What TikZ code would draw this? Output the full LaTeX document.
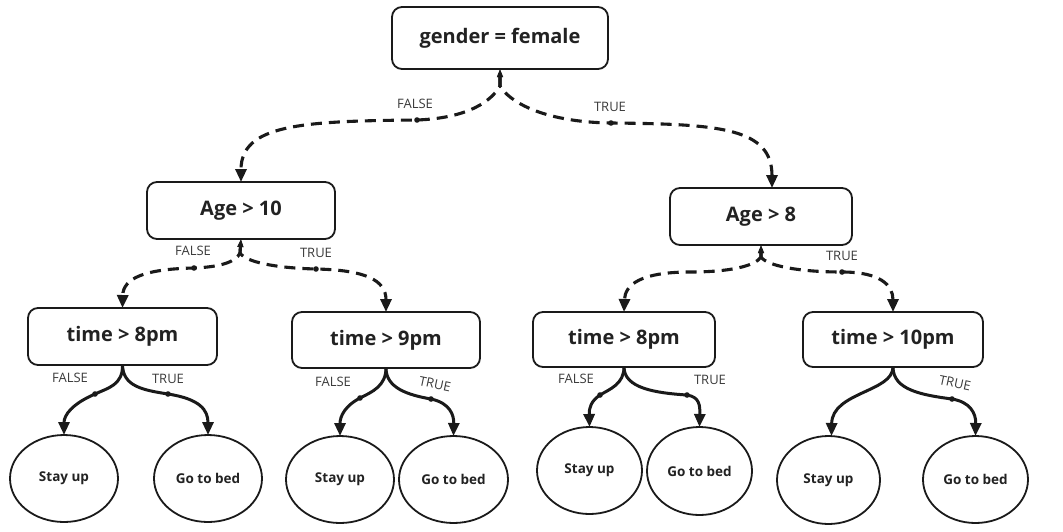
\documentclass[tikz,border=0pt]{standalone}
\usepackage{fontspec}
\setmainfont{Open Sans}
\usetikzlibrary{arrows.meta,shapes.geometric}
\definecolor{ink}{HTML}{1A1A1A}
\definecolor{txt}{HTML}{222222}
\definecolor{lbl}{HTML}{3A3A3A}
\begin{document}
\begin{tikzpicture}[x=1pt,y=-1pt,
  decision/.style={draw=ink, line width=1.8pt, rounded corners=10pt, inner sep=0pt, outer sep=0pt,
    font=\bfseries\fontsize{20}{24}\selectfont, text=txt},
  leaf/.style={ellipse, draw=ink, line width=1.8pt, inner sep=0pt, outer sep=0pt,
    font=\bfseries\fontsize{13.5}{16}\selectfont, text=txt},
  dashedge/.style={draw=ink, line width=3.1pt, dash pattern=on 11pt off 7pt,
    {Triangle[length=8pt,width=5.5pt]}-{Triangle[length=13pt,width=11pt]}},
  solidedge/.style={draw=ink, line width=3pt, -{Triangle[length=13pt,width=11pt]}},
  lbl/.style={font=\fontsize{13}{15}\selectfont, text=lbl, inner sep=0pt},
  dotmark/.style={fill=ink}
]
\useasboundingbox (0,0) rectangle (1063,531);
\fill[white] (0,0) rectangle (1063,531);

% decision nodes
\node[decision, minimum width=216pt, minimum height=62pt] (root) at (500,38) {gender = female};
\node[decision, minimum width=188pt, minimum height=57pt] (age10) at (241,210.5) {Age > 10};
\node[decision, minimum width=182pt, minimum height=57pt] (age8) at (761,216.5) {Age > 8};
\node[decision, minimum width=189pt, minimum height=57pt] (time1) at (122.5,336.5) {time > 8pm};
\node[decision, minimum width=188pt, minimum height=56pt] (time2) at (386,340) {time > 9pm};
\node[decision, minimum width=182pt, minimum height=55pt] (time3) at (624,339.5) {time > 8pm};
\node[decision, minimum width=180pt, minimum height=55pt] (time4) at (893,339.5) {time > 10pm};

% leaves
\node[leaf, minimum width=108pt, minimum height=87pt] (stay1) at (64,478.5) {Stay up};
\node[leaf, minimum width=108pt, minimum height=87pt] (go1) at (208,478.5) {Go to bed};
\node[leaf, minimum width=108pt, minimum height=87pt] (stay2) at (340,479.5) {Stay up};
\node[leaf, minimum width=109pt, minimum height=87pt] (go2) at (453.5,479.5) {Go to bed};
\node[leaf, minimum width=105pt, minimum height=87pt] (stay3) at (589.5,470.5) {Stay up};
\node[leaf, minimum width=105pt, minimum height=88pt] (go3) at (699.5,471) {Go to bed};
\node[leaf, minimum width=103pt, minimum height=88pt] (stay4) at (828.5,480) {Stay up};
\node[leaf, minimum width=105pt, minimum height=87pt] (go4) at (975.5,479.5) {Go to bed};

% via points
\coordinate (s0) at (500,86);
\coordinate (s1) at (240,253);
\coordinate (s2) at (761,257);
\coordinate (d1) at (417,120);
\coordinate (d2) at (611,123);
\coordinate (d3) at (194,268);
\coordinate (d4) at (316,269);
\coordinate (c1) at (690,272);
\coordinate (d5) at (842,272);
\coordinate (d6) at (95,394);
\coordinate (d7) at (168,394);
\coordinate (d8) at (360,398);
\coordinate (d9) at (431,399);
\coordinate (d10) at (600,395);
\coordinate (d11) at (687,395);
\coordinate (d12) at (952,399);
\coordinate (age8in) at ([xshift=11pt]age8.north);
\coordinate (stay4in) at ([xshift=3pt]stay4.north);

% dashed edges
\draw[dashedge] (root.south) -- (s0) .. controls (492,100) and (470,118) .. (d1) .. controls (300,121) and (241,125) .. (age10.north);
\draw[dashedge] (root.south) -- (s0) .. controls (508,100) and (540,122) .. (d2) .. controls (720,124) and (772,128) .. (age8in);
\draw[dashedge] (age10.south) -- (s1) .. controls (236,262) and (220,267) .. (d3) .. controls (145,269) and (123,278) .. (time1.north);
\draw[dashedge] (age10.south) -- (s1) .. controls (246,262) and (275,268) .. (d4) .. controls (365,270) and (386,280) .. (time2.north);
\draw[dashedge] (age8.south) -- (s2) .. controls (755,266) and (730,272) .. (c1) .. controls (640,272) and (625,285) .. (time3.north);
\draw[dashedge] (age8.south) -- (s2) .. controls (767,266) and (800,272) .. (d5) .. controls (880,272) and (893,285) .. (time4.north);

% solid edges
\draw[solidedge] (time1.south) .. controls (123,385) and (108,388) .. (d6) .. controls (72,404) and (64,415) .. (stay1.north);
\draw[solidedge] (time1.south) .. controls (123,386) and (142,390) .. (d7) .. controls (200,399) and (208,410) .. (go1.north);
\draw[solidedge] (time2.south) .. controls (386,386) and (372,392) .. (d8) .. controls (345,406) and (340,416) .. (stay2.north);
\draw[solidedge] (time2.south) .. controls (386,388) and (408,395) .. (d9) .. controls (450,403) and (454,415) .. (go2.north);
\draw[solidedge] (time3.south) .. controls (624,384) and (610,389) .. (d10) .. controls (591,401) and (589,408) .. (stay3.north);
\draw[solidedge] (time3.south) .. controls (624,388) and (655,393) .. (d11) .. controls (700,397) and (700,406) .. (go3.north);
\draw[solidedge] (time4.south) .. controls (893,392) and (832,392) .. (stay4in);
\draw[solidedge] (time4.south) .. controls (893,390) and (922,395) .. (d12) .. controls (970,402) and (976,413) .. (go4.north);

% dots
\foreach \p in {d1,d2,d3,d4,d5,d6,d7,d8,d9,d10,d11,d12}
  \fill[dotmark] (\p) circle (2.8pt);

% labels
\node[lbl] (l1) at (415,104) {FALSE};
\node[lbl] (l2) at (610,107) {TRUE};
\node[lbl] (l3) at (193,251) {FALSE};
\node[lbl] (l4) at (316,253) {TRUE};
\node[lbl] (l5) at (842,256) {TRUE};
\node[lbl] (l6) at (70,378) {FALSE};
\node[lbl] (l7) at (168,379) {TRUE};
\node[lbl] (l8) at (333,382) {FALSE};
\node[lbl, rotate=-12] (l9) at (435,384) {TRUE};
\node[lbl] (l10) at (576,379) {FALSE};
\node[lbl] (l11) at (710,380) {TRUE};
\node[lbl, rotate=-12] (l12) at (955,383) {TRUE};
\end{tikzpicture}
\end{document}
